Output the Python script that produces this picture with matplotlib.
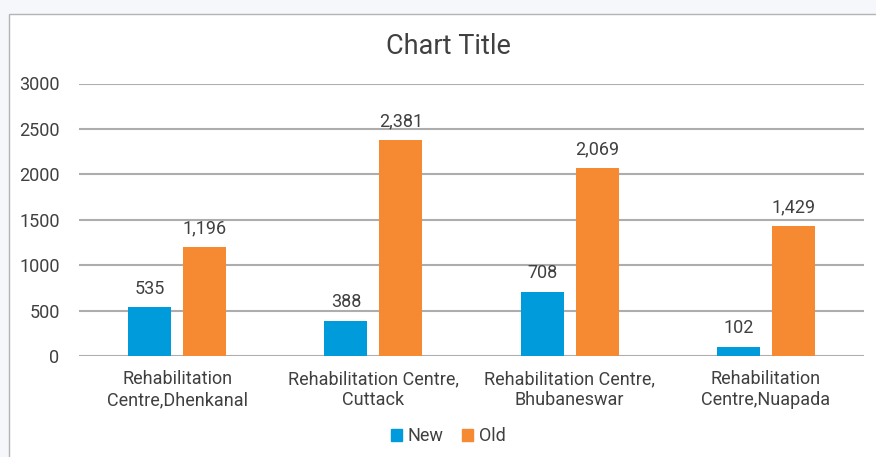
import matplotlib
matplotlib.use("Agg")
from matplotlib import pyplot as plt
from matplotlib.patches import Rectangle, Patch
import numpy as np

centres = [
    "Rehabilitation\nCentre,Dhenkanal",
    "Rehabilitation Centre,\nCuttack",
    "Rehabilitation Centre,\nBhubaneswar",
    "Rehabilitation\nCentre,Nuapada",
]
new_vals = [535, 388, 708, 102]
old_vals = [1196, 2381, 2069, 1429]
yticks = [0, 500, 1000, 1500, 2000, 2500, 3000]

blue = "#009BDB"
orange = "#F58A33"
grid_c = "#ADADAD"
text_c = "#404040"
fs = 13

plt.rcParams["font.family"] = ["Roboto", "DejaVu Sans"]

fig = plt.figure(figsize=(8.76, 4.57), dpi=100)
fig.patch.set_facecolor("#F5F7FB")
# chart area frame
fig.patches.append(Rectangle((9 / 876, -0.1), 1.0, (457 - 14) / 457 + 0.1,
                             transform=fig.transFigure, facecolor="white",
                             edgecolor="#B4B4B4", linewidth=1.0, zorder=-10))

ax = fig.add_axes([79 / 876, 101 / 457, 785 / 876, 272.5 / 457])
ax.set_facecolor("none")

x = np.arange(len(centres))
w = 0.22
b1 = ax.bar(x - 0.14, new_vals, w, color=blue, zorder=3)
b2 = ax.bar(x + 0.14, old_vals, w, color=orange, zorder=3)

for bars in (b1, b2):
    for rect in bars:
        v = rect.get_height()
        ax.annotate(f"{v:,}", (rect.get_x() + rect.get_width() / 2, v),
                    xytext=(0, 7), textcoords="offset points",
                    ha="center", va="bottom", fontsize=fs, color=text_c)

ax.set_xlim(-0.5, len(centres) - 0.5)
ax.set_ylim(0, 3000)
ax.set_yticks(yticks)
ax.set_xticks(x)
ax.set_xticklabels(centres, fontsize=fs, color=text_c, linespacing=1.25)
ax.tick_params(axis="y", labelsize=fs, labelcolor=text_c, length=0, pad=14)
ax.tick_params(axis="x", length=0, pad=10)
ax.yaxis.grid(True, color=grid_c, linewidth=1.5, zorder=0)
for s in ax.spines.values():
    s.set_visible(False)

fig.text(448 / 876, (457 - 47) / 457, "Chart Title", ha="center", va="center",
         fontsize=19.5, color=text_c)

handles = [Patch(color=blue, label="New"), Patch(color=orange, label="Old")]
fig.legend(handles=handles, loc="center", bbox_to_anchor=(448 / 876, 21 / 457),
           ncol=2, frameon=False, fontsize=fs, handlelength=0.65,
           handleheight=0.65, handletextpad=0.3, columnspacing=1.0,
           labelcolor=text_c)

fig.savefig("out.png", dpi=100, facecolor=fig.get_facecolor())
